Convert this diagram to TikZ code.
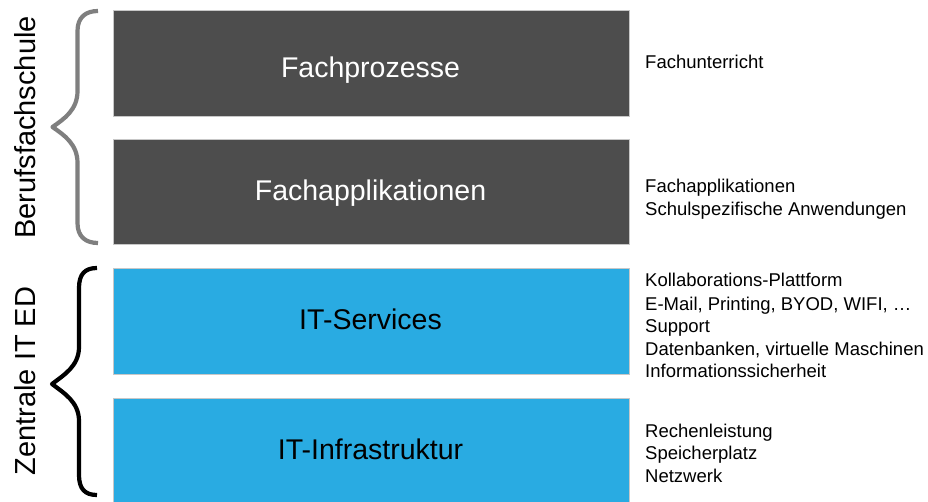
\documentclass[tikz,border=0pt]{standalone}
\usepackage{fontspec}
\setmainfont{Liberation Sans}
\definecolor{layerdark}{HTML}{4D4D4D}
\definecolor{layerblue}{HTML}{29ABE2}
\definecolor{bracegray}{HTML}{7F7F7F}

\begin{document}
\begin{tikzpicture}[x=1pt,y=-1pt,
  layer/.style={draw=black!22, line width=0.8pt, minimum width=516pt,
    minimum height=105.5pt, inner sep=0pt, anchor=north west},
  layertext/.style={text=white, font=\fontsize{28.5}{34}\selectfont,
    anchor=base, inner sep=0pt},
  note/.style={font=\fontsize{18.5}{22.5}\selectfont, anchor=base west,
    inner sep=0pt},
  side/.style={font=\fontsize{29}{34}\selectfont, rotate=90,
    anchor=base, inner sep=0pt},
  bracket/.style={line width=4.2pt, line join=round}]

\clip (0,0) rectangle (928,502);
\fill[white] (0,0) rectangle (928,502);

% layer boxes
\node[layer, fill=layerdark] (prozesse) at (112.5,10.5) {};
\node[layer, fill=layerdark] (applik)   at (112.5,139) {};
\node[layer, fill=layerblue] (services) at (112.5,268) {};
\node[layer, fill=layerblue, minimum height=110pt] (infra) at (112.5,397.5) {};

% layer titles
\node[layertext] (tprozesse) at (370.5,78) {Fachprozesse};
\node[layertext] (tapplik)   at (370.5,201) {Fachapplikationen};
\node[layertext, text=black] (tservices) at (370.5,330) {IT-Services};
\node[layertext, text=black] (tinfra)    at (370.5,459) {IT-Infrastruktur};

% notes on the right
\node[note] (n1)  at (645,69)    {Fachunterricht};
\node[note] (n2)  at (645,193)   {Fachapplikationen};
\node[note] (n3)  at (645,216)   {Schulspezifische Anwendungen};
\node[note] (n4)  at (645,287)   {Kollaborations-Plattform};
\node[note] (n5)  at (645,310)   {E-Mail, Printing, BYOD, WIFI, …};
\node[note] (n6)  at (645,332.5) {Support};
\node[note] (n7)  at (645,355)   {Datenbanken, virtuelle Maschinen};
\node[note] (n8)  at (645,377.5) {Informationssicherheit};
\node[note] (n9)  at (645,437)   {Rechenleistung};
\node[note] (n10) at (645,459.5) {Speicherplatz};
\node[note] (n11) at (645,482)   {Netzwerk};

% group labels
\node[side] (schule) at (35,127.5) {Berufsfachschule};
\node[side] (zentral) at (35,381) {Zentrale IT ED};

% curly braces
\draw[bracket, bracegray]
  (98,11) .. controls (86,11) and (77.5,17) .. (77.5,31) -- (77.5,91)
  .. controls (77.5,110) and (64,119) .. (52.5,127)
  .. controls (64,135) and (77.5,144) .. (77.5,163) -- (77.5,223)
  .. controls (77.5,237) and (86,243) .. (98,243);
\draw[bracket, black]
  (97,268) .. controls (85,268) and (79,274) .. (79,288) -- (79,347)
  .. controls (79,366) and (64,375) .. (52,384)
  .. controls (64,393) and (79,402) .. (79,421) -- (79,475)
  .. controls (79,489) and (85,495) .. (97,495);
\end{tikzpicture}
\end{document}
